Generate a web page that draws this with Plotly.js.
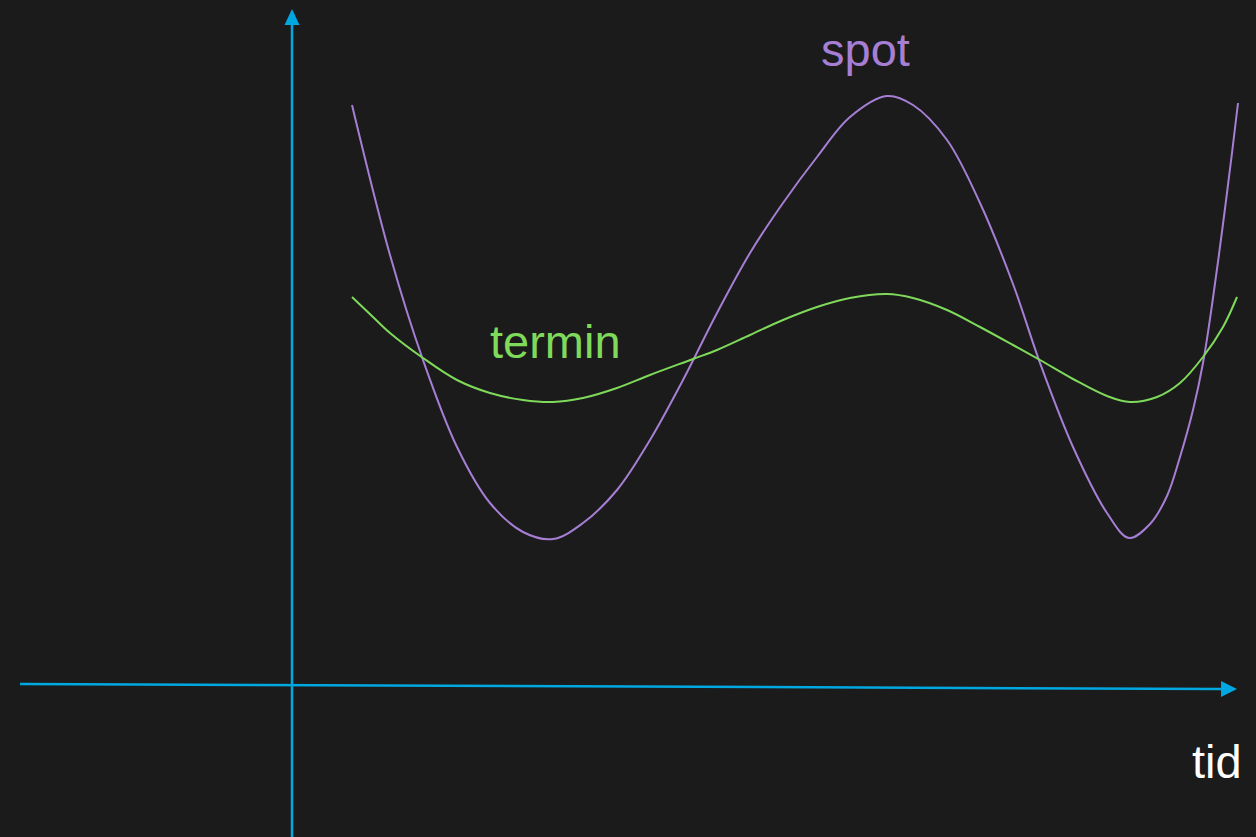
<!DOCTYPE html>
<html>
<head>
<meta charset="utf-8">
<script src="https://cdn.plot.ly/plotly-3.0.1.min.js"></script>
<style>
html,body{margin:0;padding:0;background:#1b1b1b;}
#chart{width:1256px;height:837px;}
</style>
</head>
<body>
<div id="chart"></div>
<script>
// time (x) and price (y) in abstract units
const spotX = [0.60, 0.98, 1.31, 1.65, 1.98, 2.31, 2.61, 2.91, 3.25, 3.58, 3.91, 4.25, 4.58, 4.91, 5.25, 5.58, 5.95, 6.21, 6.55, 6.88, 7.21, 7.48, 7.81, 8.15, 8.37, 8.58, 8.75, 8.88, 9.01, 9.11, 9.21, 9.31, 9.40, 9.46];
const spotY = [5.80, 4.30, 3.25, 2.38, 1.82, 1.53, 1.46, 1.62, 1.95, 2.45, 3.05, 3.72, 4.32, 4.82, 5.28, 5.68, 5.89, 5.80, 5.45, 4.82, 4.01, 3.22, 2.38, 1.72, 1.47, 1.61, 1.89, 2.28, 2.75, 3.22, 3.87, 4.61, 5.32, 5.82];
const terminX = [0.60, 0.81, 0.98, 1.31, 1.65, 1.98, 2.31, 2.61, 2.91, 3.25, 3.58, 4.01, 4.25, 4.58, 4.91, 5.25, 5.58, 5.95, 6.21, 6.55, 6.88, 7.21, 7.48, 7.81, 8.15, 8.38, 8.65, 8.88, 9.11, 9.31, 9.45];
const terminY = [3.88, 3.68, 3.52, 3.27, 3.05, 2.92, 2.85, 2.83, 2.87, 2.97, 3.10, 3.26, 3.35, 3.50, 3.65, 3.78, 3.87, 3.91, 3.87, 3.75, 3.58, 3.40, 3.25, 3.06, 2.89, 2.83, 2.88, 3.02, 3.28, 3.58, 3.88];
const seriesNames = ["spot", "termin"];
const axisLabel = "tid";

const BG = "#1b1b1b";
const AXIS = "#00a8e1";
const PURPLE = "#a67fd4";
const GREEN = "#7fd95a";
const FONT = "Liberation Sans, Arial, sans-serif";

const traces = [
  {x: spotX, y: spotY, mode: "lines", name: seriesNames[0],
   line: {color: PURPLE, width: 2, shape: "spline", smoothing: 1, simplify: false}, hoverinfo: "skip"},
  {x: terminX, y: terminY, mode: "lines", name: seriesNames[1],
   line: {color: GREEN, width: 2, shape: "spline", smoothing: 1, simplify: false}, hoverinfo: "skip"}
];

const layout = {
  width: 1256, height: 837,
  margin: {l: 0, r: 0, t: 0, b: 0},
  paper_bgcolor: BG, plot_bgcolor: BG,
  showlegend: false,
  xaxis: {range: [-2.92, 9.64], visible: false, fixedrange: true},
  yaxis: {range: [-1.52, 6.85], visible: false, fixedrange: true},
  shapes: [
    {type: "line", xref: "x", yref: "y", x0: -2.72, y0: 0.01, x1: 9.30, y1: -0.04,
     line: {color: AXIS, width: 2.5}, layer: "below"},
    {type: "line", xref: "x", yref: "y", x0: 0, y0: -1.6, x1: 0, y1: 6.62,
     line: {color: AXIS, width: 2.5}, layer: "below"},
    {type: "path", xref: "x", yref: "y", path: "M -0.075,6.60 L 0.075,6.60 L 0,6.76 Z",
     fillcolor: AXIS, line: {color: AXIS, width: 0}},
    {type: "path", xref: "x", yref: "y", path: "M 9.29,0.04 L 9.29,-0.12 L 9.45,-0.04 Z",
     fillcolor: AXIS, line: {color: AXIS, width: 0}}
  ],
  annotations: [
    {text: seriesNames[0], x: 5.73, y: 6.36, xref: "x", yref: "y", showarrow: false,
     xanchor: "center", yanchor: "middle",
     font: {family: FONT, size: 47, color: PURPLE}},
    {text: seriesNames[1], x: 2.63, y: 3.44, xref: "x", yref: "y", showarrow: false,
     xanchor: "center", yanchor: "middle",
     font: {family: FONT, size: 47, color: GREEN}},
    {text: axisLabel, x: 9.25, y: -0.76, xref: "x", yref: "y", showarrow: false,
     xanchor: "center", yanchor: "middle",
     font: {family: FONT, size: 47, color: "#ffffff"}}
  ]
};

Plotly.newPlot("chart", traces, layout, {staticPlot: true, displayModeBar: false});
</script>
</body>
</html>
